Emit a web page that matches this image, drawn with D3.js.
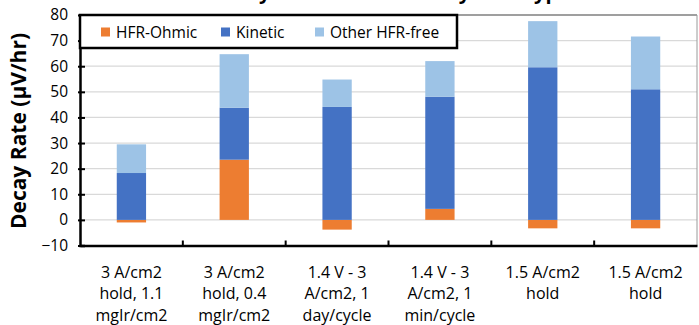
<!DOCTYPE html>
<html>
<head>
<meta charset="utf-8">
<script src="https://cdn.jsdelivr.net/npm/d3@7"></script>
<style>
  html, body { margin: 0; padding: 0; background: #fff; }
  svg { display: block; font-family: "Open Sans", "Noto Sans", sans-serif; }
</style>
</head>
<body>
<svg id="chart" width="699" height="325"></svg>
<script>
// Test conditions (multi-line axis labels)
const categories = [
  ["3 A/cm2", "hold, 1.1", "mgIr/cm2"],
  ["3 A/cm2", "hold, 0.4", "mgIr/cm2"],
  ["1.4 V - 3", "A/cm2, 1", "day/cycle"],
  ["1.4 V - 3", "A/cm2, 1", "min/cycle"],
  ["1.5 A/cm2", "hold"],
  ["1.5 A/cm2", "hold"]
];
const seriesNames = ["HFR-Ohmic", "Kinetic", "Other HFR-free"];
const hfrOhmic = [-1.0, 23.5, -3.8, 4.3, -3.3, -3.3];
const kinetic = [18.3, 20.3, 44.1, 43.8, 59.6, 51.0];
const otherHfrFree = [11.2, 20.9, 10.7, 13.9, 18.0, 20.6];
const yTicks = [-10, 0, 10, 20, 30, 40, 50, 60, 70, 80];
const colors = ["#ED7D31", "#4472C4", "#9DC3E6"];

const svg = d3.select("#chart");
const plotLeft = 80, plotRight = 697, plotTop = 15, plotBottom = 245.5;

const x = d3.scaleBand().domain(d3.range(categories.length)).range([plotLeft, plotRight]);
const y = d3.scaleLinear().domain([-10, 80]).range([plotBottom, plotTop]);

// Title (runs off the top of the frame)
svg.append("text")
  .attr("x", 390).attr("y", -1)
  .attr("text-anchor", "middle")
  .attr("font-size", 20).attr("font-weight", "bold").attr("fill", "#000")
  .text("Decay Rate Breakdown by Test Type");

// Gridlines
svg.append("g").selectAll("line")
  .data(yTicks.filter(t => t > -10 && t < 80))
  .join("line")
  .attr("x1", plotLeft).attr("x2", plotRight)
  .attr("y1", d => y(d)).attr("y2", d => y(d))
  .attr("stroke", "#d9d9d9").attr("stroke-width", 1.2);

// Plot frame (top and right)
svg.append("line").attr("x1", plotLeft).attr("x2", plotRight).attr("y1", plotTop).attr("y2", plotTop)
  .attr("stroke", "#7f7f7f").attr("stroke-width", 1.5);
svg.append("line").attr("x1", plotRight).attr("x2", plotRight).attr("y1", plotTop).attr("y2", plotBottom)
  .attr("stroke", "#9a9a9a").attr("stroke-width", 1);

// Stacked bars: positives stack upward from 0, negatives downward
const series = [hfrOhmic, kinetic, otherHfrFree];
const barW = x.bandwidth() * 0.285;
const rects = [];
categories.forEach((c, i) => {
  let pos = 0, neg = 0;
  series.forEach((s, k) => {
    const v = s[i];
    let y0, y1;
    if (v >= 0) { y0 = pos; y1 = pos + v; pos = y1; }
    else { y0 = neg + v; y1 = neg; neg = y0; }
    rects.push({ i, k, y0, y1 });
  });
});
svg.append("g").selectAll("rect")
  .data(rects)
  .join("rect")
  .attr("x", d => x(d.i) + (x.bandwidth() - barW) / 2)
  .attr("width", barW)
  .attr("y", d => y(d.y1))
  .attr("height", d => y(d.y0) - y(d.y1))
  .attr("fill", d => colors[d.k]);

// Y axis
const yAxis = svg.append("g").attr("transform", `translate(${plotLeft},0)`)
  .call(d3.axisLeft(y).tickValues(yTicks).tickSize(-5).tickPadding(12).tickFormat(d3.format("d")));
yAxis.select(".domain").attr("stroke", "#000").attr("stroke-width", 2.5);
yAxis.selectAll(".tick line").attr("stroke", "#000").attr("stroke-width", 2).attr("x1", -2).attr("x2", 5);
yAxis.selectAll(".tick text").attr("font-size", 15.5).attr("fill", "#000")
  .attr("font-family", "Open Sans, sans-serif");

// X axis
const xAxis = svg.append("g").attr("transform", `translate(0,${plotBottom})`)
  .call(d3.axisBottom(x).tickSize(0).tickFormat(""));
xAxis.select(".domain").attr("stroke", "#000").attr("stroke-width", 2.5);
// Category separators
svg.append("g").selectAll("line")
  .data(d3.range(1, categories.length))
  .join("line")
  .attr("x1", d => x(d)).attr("x2", d => x(d))
  .attr("y1", plotBottom).attr("y2", plotBottom - 5)
  .attr("stroke", "#000").attr("stroke-width", 2);

// Category labels
const lbl = svg.append("g").selectAll("text")
  .data(categories)
  .join("text")
  .attr("text-anchor", "middle")
  .attr("font-size", 16).attr("fill", "#000")
  .attr("x", (d, i) => x(i) + x.bandwidth() / 2);
lbl.each(function(d) {
  const t = d3.select(this);
  d.forEach((line, j) => {
    t.append("tspan")
      .attr("x", t.attr("x"))
      .attr("y", 277.5 + j * 21.7)
      .text(line);
  });
});

// Y axis title
svg.append("text")
  .attr("transform", "translate(26,131) rotate(-90)")
  .attr("text-anchor", "middle")
  .attr("font-size", 21).attr("font-weight", "bold").attr("fill", "#000")
  .text("Decay Rate (μV/hr)");

// Legend
const lg = svg.append("g");
lg.append("rect").attr("x", plotLeft).attr("y", plotTop).attr("width", 377).attr("height", 33)
  .attr("fill", "#fff").attr("stroke", "#000").attr("stroke-width", 2.5);
const legendX = [101, 221, 315];
seriesNames.forEach((name, k) => {
  lg.append("rect").attr("x", legendX[k]).attr("y", 27.5).attr("width", 9).attr("height", 9)
    .attr("fill", colors[k]);
  lg.append("text").attr("x", legendX[k] + 15).attr("y", 37.5)
    .attr("font-size", 15.5).attr("fill", "#000").text(name);
});
</script>
</body>
</html>
